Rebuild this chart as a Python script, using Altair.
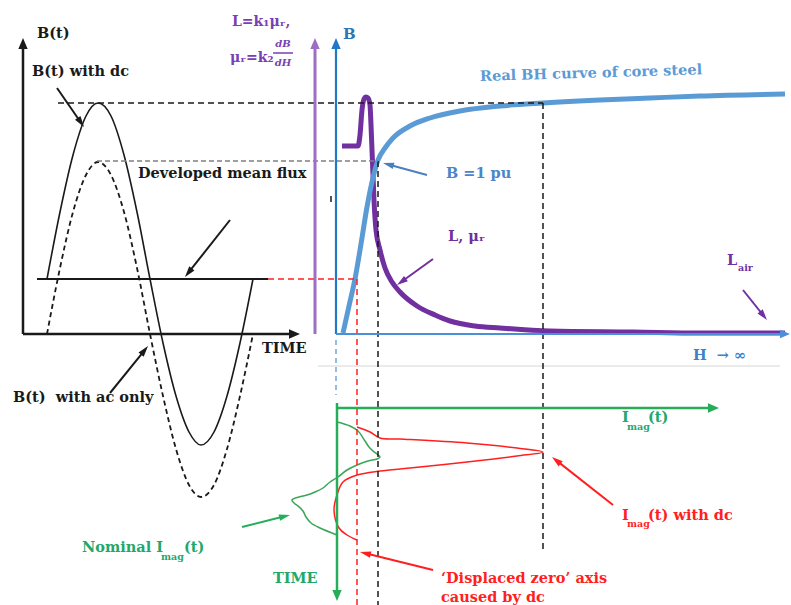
import math
import altair as alt
import pandas as pd

# Drawing canvas in figure units (one unit per page pixel, y grows downward)
FIG_W, FIG_H = 791, 605
XS = alt.Scale(domain=[0, FIG_W], nice=False, zero=False)
YS = alt.Scale(domain=[0, FIG_H], nice=False, zero=False, reverse=True)
FONT = "DejaVu Serif"

# ---- Left panel: flux waveforms (time position, flux position) ----
wave_t = [47, 60, 73, 86, 98, 111, 124, 137, 150, 163, 176, 189, 201, 214, 227, 240, 253]
flux_with_dc = [279, 212, 155, 116, 103, 116, 155, 212, 279, 343, 396, 432, 445, 432, 396, 343, 279]
flux_ac_only = [334, 268, 212, 175, 162, 175, 212, 268, 334, 396, 449, 485, 497, 485, 449, 396, 334]

# ---- Right panel: real BH curve of the core steel ----
bh_h = [343, 349, 355, 361, 367, 372, 378, 385, 393, 410, 430, 460, 500, 543, 600, 650, 700, 785]
bh_b = [333, 306, 279, 244, 207, 182, 160, 148, 138, 126, 118, 111, 106, 103, 100, 98, 96, 94]

# ---- Right panel: inductance / relative permeability ----
l_h = [342, 358, 360, 362, 364, 366, 368, 370, 371, 372, 373, 374, 376, 380, 385, 392,
       400, 417, 435, 450, 475, 500, 550, 633, 700, 785]
l_v = [146, 146, 135, 110, 99, 97, 98, 105, 125, 150, 175, 200, 230, 250, 268, 282,
       292, 306, 315, 321, 326, 328, 331, 332, 333, 333]

# ---- Bottom panel: magnetising current against time ----
nominal_i = [337, 350, 358, 365, 369, 373, 380, 377, 368, 357, 347, 338, 330, 323, 315, 307,
             299, 292, 294, 298, 303, 306, 311, 320, 337]
nominal_t = [422, 426, 431, 441, 447, 451, 457, 459, 461, 465, 470, 477, 482, 488, 492, 495,
             497, 500, 503, 506, 511, 517, 523, 528, 535]
dc_i = [357, 370, 380, 400, 467, 517, 543, 517, 467, 410, 380, 357, 343, 337, 334, 339, 347, 357]
dc_t = [427, 432, 438, 439, 443, 448, 452, 456, 462, 468, 471, 475, 482, 495, 510, 528, 535, 540]

HEAD_NARROW = "M0,-1L0.6,1L-0.6,1Z"
HEAD_WIDE = "M0,-1L0.85,1L-0.85,1Z"


def X(f):
    return alt.X(f + ":Q", scale=XS, axis=None)


def Y(f):
    return alt.Y(f + ":Q", scale=YS, axis=None)


def curve(xs, ys, color, width, dash=None, interp="monotone", ordered=False):
    df = pd.DataFrame({"x": xs, "y": ys, "i": range(len(xs))})
    kw = dict(color=color, strokeWidth=width, interpolate=interp)
    if dash:
        kw["strokeDash"] = dash
    enc = dict(x=X("x"), y=Y("y"))
    if ordered:
        enc["order"] = alt.Order("i:Q")
    return alt.Chart(df).mark_line(**kw).encode(**enc)


def segments(rows, color, width, dash=None):
    df = pd.DataFrame(rows, columns=["x", "y", "x2", "y2"])
    kw = dict(color=color, strokeWidth=width)
    if dash:
        kw["strokeDash"] = dash
    return alt.Chart(df).mark_rule(**kw).encode(
        x=X("x"), y=Y("y"), x2=alt.X2("x2"), y2=alt.Y2("y2"))


def arrows(rows, color, width, head_size=121, head=HEAD_NARROW):
    half = math.sqrt(head_size) / 2
    shafts, heads = [], []
    for x1, y1, x2, y2 in rows:
        dx, dy = x2 - x1, y2 - y1
        n = math.hypot(dx, dy)
        ux, uy = dx / n, dy / n
        cx, cy = x2 - ux * half, y2 - uy * half
        ang = (math.degrees(math.atan2(ux, -uy)) + 360) % 360
        shafts.append((x1, y1, cx, cy))
        heads.append({"x": cx, "y": cy, "angle": ang})
    shaft = segments(shafts, color, width)
    tip = alt.Chart(pd.DataFrame(heads)).mark_point(
        shape=head, filled=True, color=color, size=head_size, opacity=1
    ).encode(x=X("x"), y=Y("y"), angle=alt.Angle("angle:Q", scale=None))
    return shaft + tip


def labels(rows, color, size=14.5, weight="bold", align="left", style="normal", angle=None):
    df = pd.DataFrame(rows, columns=["t", "x", "y"])
    kw = dict(color=color, font=FONT, fontSize=size, fontWeight=weight, align=align,
              baseline="middle", fontStyle=style)
    if angle is not None:
        kw["angle"] = angle
    return alt.Chart(df).mark_text(**kw).encode(x=X("x"), y=Y("y"), text="t:N")


BLACK = "#1a1a1a"
PURPLE = "#7030a0"
PURPLE_AXIS = "#9b6fc6"
BLUE = "#2e75b6"
LIGHT_BLUE = "#5b9bd5"
GREEN = "#26ad5a"
RED = "#ff1f1f"

layers = [
    # separator under the H axis
    segments([(318, 366, 780, 366)], "#d6d6d6", 1),
    # curves
    curve(wave_t, flux_with_dc, BLACK, 1.6),
    curve(wave_t, flux_ac_only, BLACK, 1.8, dash=[5, 3.5]),
    curve(l_h, l_v, PURPLE, 5),
    curve(bh_h, bh_b, LIGHT_BLUE, 5),
    curve(nominal_i, nominal_t, "#3aa655", 1.5, interp="catmull-rom", ordered=True),
    curve(dc_i, dc_t, RED, 1.5, interp="catmull-rom", ordered=True),
    # reference lines
    segments([(37, 279, 268, 279)], BLACK, 2),
    segments([(58, 103, 543, 103), (543, 103, 543, 553), (378, 161, 378, 605)], BLACK, 1.5, dash=[6, 4]),
    segments([(97, 161, 378, 161)], "#808080", 1.5, dash=[5, 3]),
    segments([(268, 279, 357, 279), (357, 279, 357, 605)], RED, 1.5, dash=[6, 4]),
    segments([(336, 340, 336, 395)], LIGHT_BLUE, 1.3, dash=[5, 4]),
    segments([(331, 196, 331, 202)], BLACK, 1.5),
    # axes
    arrows([(23, 334, 23, 38), (23, 334, 300, 334)], BLACK, 2.5, head_size=121, head=HEAD_WIDE),
    arrows([(315, 334, 315, 38)], PURPLE_AXIS, 3, head_size=121, head=HEAD_WIDE),
    arrows([(336, 334, 336, 38)], "#1f78c8", 2.2, head_size=121, head=HEAD_WIDE),
    arrows([(336, 334, 790, 334)], "#4a90d9", 2.2, head_size=100, head=HEAD_WIDE),
    arrows([(337, 408, 719, 408), (337, 403, 337, 601)], GREEN, 2.5, head_size=121, head=HEAD_WIDE),
    # fraction bar of dB/dH
    segments([(273, 53, 293, 53)], "#7b3fb5", 1.5),
    # annotation pointers
    arrows([(57, 88, 84, 127), (230, 220, 185, 277), (110, 393, 148, 346)], BLACK, 2),
    arrows([(427, 175, 383, 163)], "#4a7fc0", 2),
    arrows([(433, 259, 397, 285), (743, 290, 767, 320)], PURPLE, 2),
    arrows([(613, 505, 552, 457), (433, 570, 360, 552)], RED, 2),
    arrows([(242, 527, 290, 515)], GREEN, 2),
    # text
    labels([("B(t)", 37, 34), ("B(t) with dc", 32, 72), ("Developed mean flux", 138, 174),
            ("B(t)\u00a0 with ac only", 13, 398), ("TIME", 262, 349)], BLACK),
    labels([("L=k\u2081\u03bc\u1d63,", 232, 22), ("\u03bc\u1d63=k\u2082", 230, 58)], "#7b3fb5", size=14),
    labels([("dB", 283, 44), ("dH", 283, 63)], "#7b3fb5", size=10, align="center", style="italic"),
    labels([("B", 343, 34)], BLUE, size=15),
    labels([("Real BH curve of core steel", 480, 77)], LIGHT_BLUE, angle=358.3),
    labels([("B =1 pu", 446, 174)], "#4a86c8"),
    labels([("H\u00a0 \u2192 \u221e", 693, 356)], "#3b82c8"),
    labels([("L, \u03bc\u1d63", 448, 237), ("L", 727, 261)], PURPLE),
    labels([("air", 738, 268)], PURPLE, size=9.5),
    labels([("TIME", 273, 579), ("I", 622, 418), ("(t)", 648, 418),
            ("Nominal I", 82, 548), ("(t)", 184, 548)], "#22a86a"),
    labels([("mag", 627, 427), ("mag", 161, 557)], "#22a86a", size=9.5),
    labels([("I", 622, 516), ("(t) with dc", 648, 516),
            ("\u2018Displaced zero\u2019 axis", 441, 579), ("caused by dc", 441, 598)], RED),
    labels([("mag", 627, 524)], RED, size=9.5),
]

chart = alt.layer(*layers).properties(
    width=FIG_W, height=FIG_H, padding=0, background="white",
    autosize=alt.AutoSizeParams(type="none"),
).configure_view(stroke=None)

chart.save("out.html", embed_options={"renderer": "svg", "actions": False})
